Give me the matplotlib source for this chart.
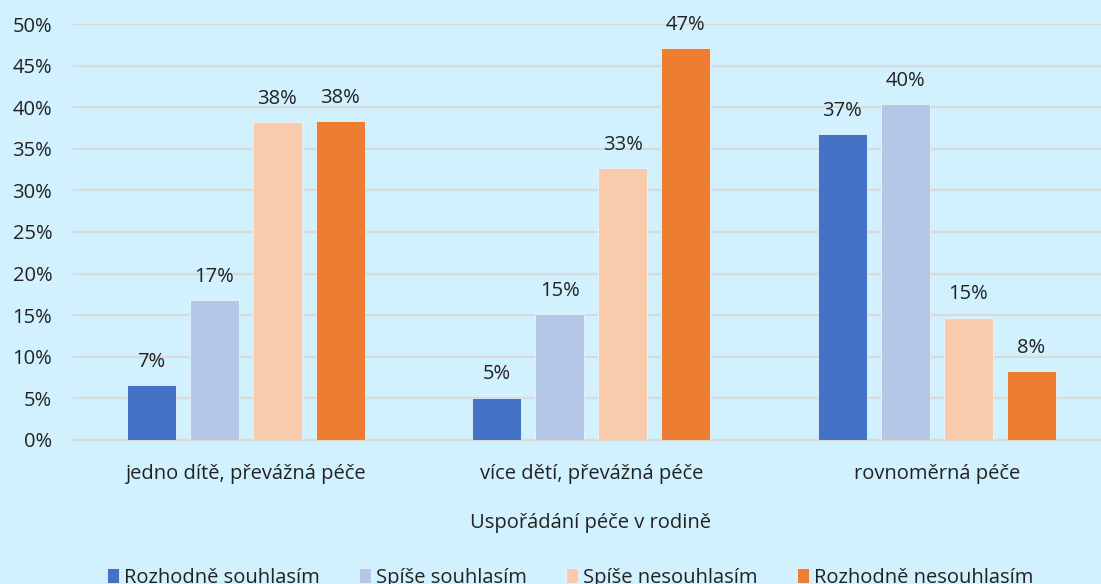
import matplotlib.pyplot as plt
import numpy as np

plt.rcParams['font.family'] = ['Open Sans', 'DejaVu Sans']
plt.rcParams['font.size'] = 14.5

categories = ['jedno dítě, převážná péče', 'více dětí, převážná péče', 'rovnoměrná péče']
series = ['Rozhodně souhlasím', 'Spíše souhlasím', 'Spíše nesouhlasím', 'Rozhodně nesouhlasím']
values = [
    [6.6, 5.1, 36.8],
    [16.8, 15.1, 40.4],
    [38.2, 32.7, 14.7],
    [38.3, 47.1, 8.3],
]
colors = ['#4472c4', '#b4c7e7', '#f8cbad', '#ed7d31']
bg = '#d0f1fd'
txt = '#222222'

fig = plt.figure(figsize=(11.01, 5.84), dpi=100, facecolor=bg)
ax = fig.add_axes([0.0663, 0.2466, 0.9414, 0.7123], facecolor=bg)

x = np.arange(len(categories))
w = 0.142
step = 0.182
for i, (name, vals) in enumerate(zip(series, values)):
    pos = x + (i - 1.5) * step
    bars = ax.bar(pos, vals, w, color=colors[i], label=name,
                  edgecolor='#e8f4fa', linewidth=0.6, zorder=3)
    for b, v in zip(bars, vals):
        ax.text(b.get_x() + b.get_width() / 2, v + 1.6, f'{round(v):.0f}%',
                ha='center', va='bottom', color=txt)

ax.set_xlim(-0.5, 2.5)
ax.set_ylim(0, 50)
ax.set_yticks(np.arange(0, 51, 5))
ax.set_yticklabels([f'{t}%' for t in range(0, 51, 5)])
ax.set_xticks(x)
ax.set_xticklabels(categories)
ax.yaxis.grid(True, color='#d9d9d9', linewidth=1.5, zorder=0)
ax.tick_params(length=0, colors=txt)
ax.tick_params(axis='y', pad=15)
ax.tick_params(axis='x', pad=17)
for s in ['top', 'right', 'left']:
    ax.spines[s].set_visible(False)
ax.spines['bottom'].set_color('#d9d9d9')
ax.spines['bottom'].set_linewidth(1.5)

fig.text(0.536, 0.105, 'Uspořádání péče v rodině', ha='center', va='center', color=txt)

fig.legend(loc='center', bbox_to_anchor=(0.518, 0.011), ncol=4, frameon=False,
           handlelength=0.6, handleheight=0.8, handletextpad=0.25, columnspacing=1.95,
           labelcolor=txt)

fig.savefig('out.png', dpi=100, facecolor=bg)
